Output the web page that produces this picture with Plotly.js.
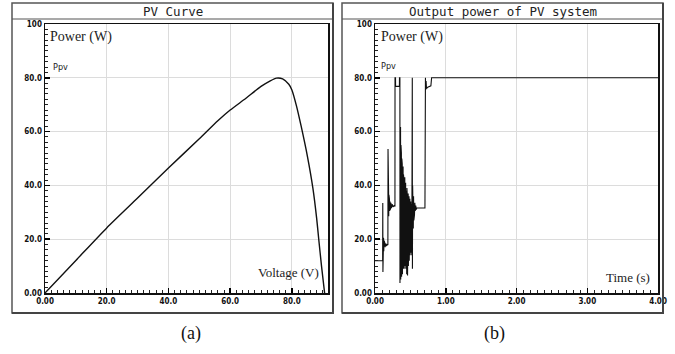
<!DOCTYPE html>
<html>
<head>
<meta charset="utf-8">
<script src="https://cdn.plot.ly/plotly-3.0.1.min.js"></script>
<style>
html,body{margin:0;padding:0;background:#fff;}
#chart{width:675px;height:354px;}
</style>
</head>
<body>
<div id="chart"></div>
<script>
// ---- Data: (a) PV curve ----
const pvVoltage = [0, 10, 20, 30, 40, 50, 56, 60, 65, 70, 73, 75, 77, 79, 80, 81.5, 83, 85, 86.8, 88, 88.7, 89.6, 90.6];
const pvPower   = [0, 12.1, 24.2, 35.3, 46.5, 57.3, 64, 68, 72.3, 76.8, 78.9, 79.9, 79.6, 77.6, 75.5, 69.5, 62, 51, 39, 28, 20, 10, 0];

// ---- Data: (b) output power of PV system ----
const timeS = [
  0, 0.108, 0.110, 0.112, 0.115, 0.118, 0.121, 0.124, 0.128, 0.132, 0.137, 0.143, 0.150, 0.160, 0.170, 0.182,
  0.184, 0.186, 0.188, 0.190, 0.192, 0.194, 0.197, 0.200, 0.204, 0.208, 0.213, 0.218, 0.225, 0.233, 0.243, 0.255, 0.270, 0.282,
  0.283, 0.290, 0.291, 0.345, 0.346, 0.352,
  0.353, 0.358, 0.361, 0.364, 0.367, 0.370, 0.373, 0.376, 0.379, 0.382, 0.385, 0.388, 0.391, 0.394, 0.397, 0.400,
  0.403, 0.406, 0.409, 0.412, 0.415, 0.418, 0.421, 0.424, 0.427, 0.430, 0.433, 0.436, 0.439, 0.442, 0.445, 0.448,
  0.451, 0.454, 0.457, 0.460, 0.463, 0.466, 0.469, 0.472, 0.475, 0.478, 0.481, 0.484, 0.487, 0.490, 0.493, 0.496,
  0.499, 0.502, 0.505, 0.508, 0.511, 0.514, 0.517, 0.520, 0.524,
  0.527, 0.529, 0.532, 0.535, 0.538, 0.541, 0.545, 0.549, 0.553, 0.558, 0.563, 0.569, 0.576, 0.583, 0.590, 0.706,
  0.707, 0.713, 0.716, 0.722, 0.728, 0.745, 0.790, 0.800, 4.0
];
const outPower = [
  12, 12, 33.5, 7.8, 22, 14, 20.5, 15.5, 19.5, 16.5, 18.8, 17, 18.4, 17.5, 18, 17.8,
  53.5, 26, 41, 27, 38, 28.5, 36.5, 29.5, 35, 30.5, 34, 31, 33.5, 31.5, 33, 32, 32.5, 32.2,
  80, 80, 76.8, 76.8, 80, 80,
  3.7, 30, 61.7, 5, 55, 8, 52, 6, 50, 10, 48, 7, 46, 11,
  47, 9, 44, 12, 42, 9, 40, 13, 43, 10, 39, 14,
  41, 9, 38, 12, 37, 7, 39, 11, 36, 6.5, 35, 12,
  37, 10, 34, 14, 36, 12, 33, 16, 35, 14, 32, 18,
  34, 15, 31, 19, 33, 14, 30,
  80, 9, 40, 20, 38, 24, 36, 27, 34.5, 29, 33.5, 30.5, 32.5, 31, 31.6, 31.6,
  80, 80, 75.5, 78.8, 76, 76.5, 77, 80, 80
];

// ---- Tick labels ----
const yTickVals = [0, 20, 40, 60, 80, 100];
const yTickText = ["0.00", "20.0", "40.0", "60.0", "80.0", "100"];
const xTickValsA = [0, 20, 40, 60, 80];
const xTickTextA = ["0.00", "20.0", "40.0", "60.0", "80.0"];
const xTickValsB = [0, 1, 2, 3, 4];
const xTickTextB = ["0.00", "1.00", "2.00", "3.00", "4.00"];

const panelTitles = ["PV Curve", "Output power of PV system"];
const yLabel = "Power (W)";
const seriesName = "Ppv";
const xLabels = ["Voltage (V)", "Time (s)"];
const captions = ["(a)", "(b)"];

function alias(vals, texts) {
  const o = {};
  vals.forEach((v, i) => { o[String(v)] = texts[i]; });
  return o;
}

const W = 675, H = 354;
const px = v => v / W;
const py = v => 1 - v / H;

const tickFont = {family: "DejaVu Sans Condensed", size: 8, color: "#111", weight: "bold"};

function axisBase(extra) {
  return Object.assign({
    showline: true, linecolor: "#111", linewidth: 1.5, mirror: true,
    ticks: "inside", ticklen: 5, tickcolor: "#000", tickwidth: 1.5,
    showgrid: true, gridcolor: "#dcdcdc", gridwidth: 1,
    zeroline: false, tickmode: "linear", tick0: 0, tickfont: tickFont
  }, extra);
}
const minorTicks = d => ({ticks: "inside", ticklen: 3, dtick: d, tick0: 0, tickcolor: "#222", tickwidth: 1, showgrid: false});

const data = [
  {x: pvVoltage, y: pvPower, type: "scatter", mode: "lines", xaxis: "x", yaxis: "y",
   line: {color: "#111", width: 1.4, shape: "spline", smoothing: 0.6}, hoverinfo: "skip", showlegend: false},
  {x: timeS, y: outPower, type: "scatter", mode: "lines", xaxis: "x2", yaxis: "y2",
   line: {color: "#111", width: 1.1}, hoverinfo: "skip", showlegend: false}
];

const yDom = [py(293), py(24)];

const layout = {
  width: W, height: H,
  margin: {l: 0, r: 0, t: 0, b: 0},
  paper_bgcolor: "#fff", plot_bgcolor: "#fff",
  showlegend: false,
  xaxis: axisBase({domain: [px(45), px(328)], range: [0, 91.7], anchor: "y",
    dtick: 20, labelalias: alias(xTickValsA, xTickTextA), minor: minorTicks(2)}),
  yaxis: axisBase({domain: yDom, range: [0, 100], anchor: "x",
    dtick: 20, labelalias: alias(yTickVals, yTickText), minor: minorTicks(2)}),
  xaxis2: axisBase({domain: [px(375), px(658)], range: [0, 4], anchor: "y2",
    dtick: 1, labelalias: alias(xTickValsB, xTickTextB), minor: minorTicks(0.1)}),
  yaxis2: axisBase({domain: yDom, range: [0, 100], anchor: "x2",
    dtick: 20, labelalias: alias(yTickVals, yTickText), minor: minorTicks(2)}),
  shapes: [
    {type: "rect", xref: "paper", yref: "paper", x0: px(12), x1: px(333), y0: py(313), y1: py(3),
     line: {color: "#555", width: 1.5}, layer: "below"},
    {type: "line", xref: "paper", yref: "paper", x0: px(12), x1: px(333), y0: py(19), y1: py(19),
     line: {color: "#555", width: 1.2}},
    {type: "line", xref: "paper", yref: "paper", x0: px(12), x1: px(334), y0: py(313), y1: py(313),
     line: {color: "#444", width: 2.2}},
    {type: "line", xref: "paper", yref: "paper", x0: px(333), x1: px(333), y0: py(313), y1: py(3),
     line: {color: "#444", width: 2}},
    {type: "rect", xref: "paper", yref: "paper", x0: px(342), x1: px(663), y0: py(313), y1: py(3),
     line: {color: "#555", width: 1.5}, layer: "below"},
    {type: "line", xref: "paper", yref: "paper", x0: px(342), x1: px(663), y0: py(19), y1: py(19),
     line: {color: "#555", width: 1.2}},
    {type: "line", xref: "paper", yref: "paper", x0: px(342), x1: px(664), y0: py(313), y1: py(313),
     line: {color: "#444", width: 2.2}},
    {type: "line", xref: "paper", yref: "paper", x0: px(663), x1: px(663), y0: py(313), y1: py(3),
     line: {color: "#444", width: 2}}
  ],
  annotations: [
    {text: panelTitles[0], xref: "paper", yref: "paper", x: px(172.5), y: py(11.5), showarrow: false,
     xanchor: "center", yanchor: "middle", font: {family: "DejaVu Sans Mono, monospace", size: 12.5, color: "#222"}},
    {text: panelTitles[1], xref: "paper", yref: "paper", x: px(502.5), y: py(11.5), showarrow: false,
     xanchor: "center", yanchor: "middle", font: {family: "DejaVu Sans Mono, monospace", size: 12.5, color: "#222"}},
    {text: yLabel, xref: "paper", yref: "paper", x: px(48), y: py(37), showarrow: false,
     xanchor: "left", yanchor: "middle", font: {family: "Liberation Serif, serif", size: 14, color: "#222"}},
    {text: yLabel, xref: "paper", yref: "paper", x: px(379), y: py(37), showarrow: false,
     xanchor: "left", yanchor: "middle", font: {family: "Liberation Serif, serif", size: 14, color: "#222"}},
    {text: seriesName, xref: "paper", yref: "paper", x: px(51), y: py(67), showarrow: false,
     xanchor: "left", yanchor: "middle", font: {family: "DejaVu Sans Condensed, DejaVu Sans, sans-serif", size: 9, color: "#222"}},
    {text: seriesName, xref: "paper", yref: "paper", x: px(379), y: py(66), showarrow: false,
     xanchor: "left", yanchor: "middle", font: {family: "DejaVu Sans Condensed, DejaVu Sans, sans-serif", size: 9, color: "#222"}},
    {text: xLabels[0], xref: "paper", yref: "paper", x: px(321), y: py(272), showarrow: false,
     xanchor: "right", yanchor: "middle", font: {family: "Liberation Serif, serif", size: 13, color: "#222"}},
    {text: xLabels[1], xref: "paper", yref: "paper", x: px(652), y: py(277), showarrow: false,
     xanchor: "right", yanchor: "middle", font: {family: "Liberation Serif, serif", size: 13, color: "#222"}},
    {text: captions[0], xref: "paper", yref: "paper", x: px(191), y: py(333), showarrow: false,
     xanchor: "center", yanchor: "middle", font: {family: "Liberation Serif, serif", size: 18, color: "#111"}},
    {text: captions[1], xref: "paper", yref: "paper", x: px(494), y: py(333), showarrow: false,
     xanchor: "center", yanchor: "middle", font: {family: "Liberation Serif, serif", size: 18, color: "#111"}}
  ]
};

Plotly.newPlot("chart", data, layout, {staticPlot: true, displayModeBar: false});
</script>
</body>
</html>
